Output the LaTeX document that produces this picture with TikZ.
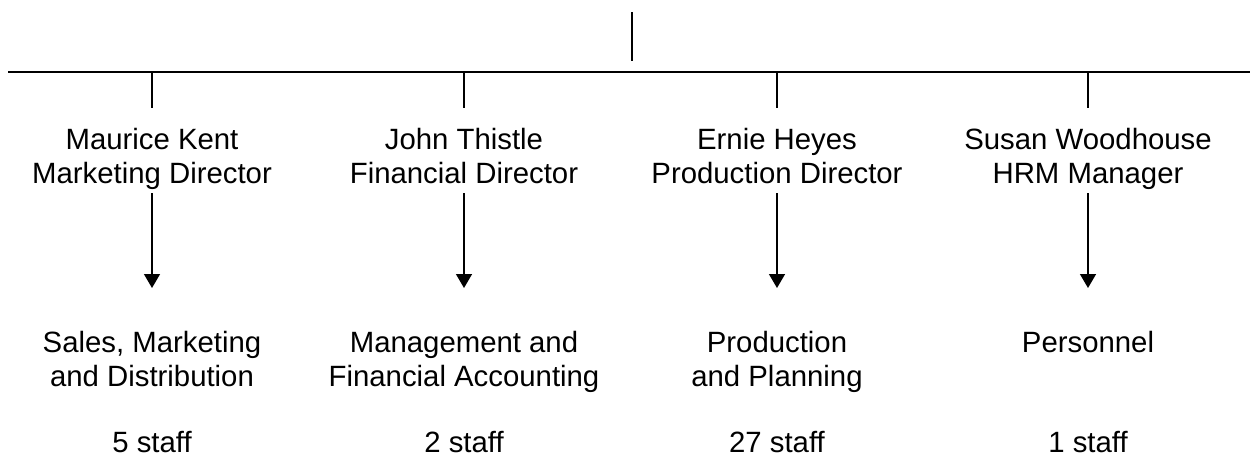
\documentclass[tikz,border=0pt]{standalone}
\usepackage{fontspec}
\setmainfont{Liberation Sans}
\usetikzlibrary{arrows.meta}
\begin{document}
\begin{tikzpicture}[
  x=0.02cm, y=-0.02cm,
  lbl/.style={
    anchor=north, align=center, inner sep=0pt,
    font=\fontsize{16.7}{19.4}\selectfont
  },
  ln/.style={line width=1.1pt},
  arr/.style={-{Triangle[width=0.32cm,length=0.28cm]}, line width=0.8pt}
]
\useasboundingbox (0,0) rectangle (1250,457);

%% ── Reference rows ───────────────────────────────────────────
\coordinate (headTop) at (632,12);
\coordinate (headBot) at (632,61);
\coordinate (busL)    at (8,72);
\coordinate (busR)    at (1250,72);
\coordinate (dropEnd) at (0,108);
\coordinate (arrTop)  at (0,193);
\coordinate (arrTip)  at (0,288);

%% ── Head line and bus ────────────────────────────────────────
\draw[ln] (headTop) -- (headBot);
\draw[ln] (busL) -- (busR);

%% ── Directors ────────────────────────────────────────────────
\node[lbl] (mk) at ( 152,128) {Maurice Kent\\Marketing Director};
\node[lbl] (jt) at ( 464,128) {John Thistle\\Financial Director};
\node[lbl] (eh) at ( 777,128) {Ernie Heyes\\Production Director};
\node[lbl] (sw) at (1088,128) {Susan Woodhouse\\HRM Manager};

\draw[ln] (mk |- busL) -- (mk |- dropEnd);
\draw[ln] (jt |- busL) -- (jt |- dropEnd);
\draw[ln] (eh |- busL) -- (eh |- dropEnd);
\draw[ln] (sw |- busL) -- (sw |- dropEnd);

%% ── Departments ──────────────────────────────────────────────
\node[lbl] (mkDept) at ( 152,331) {Sales, Marketing\\and Distribution};
\node[lbl] (jtDept) at ( 464,331) {Management and\\Financial Accounting};
\node[lbl] (ehDept) at ( 777,331) {Production\\and Planning};
\node[lbl] (swDept) at (1088,331) {Personnel};

\draw[arr] (mk |- arrTop) -- (mkDept |- arrTip);
\draw[arr] (jt |- arrTop) -- (jtDept |- arrTip);
\draw[arr] (eh |- arrTop) -- (ehDept |- arrTip);
\draw[arr] (sw |- arrTop) -- (swDept |- arrTip);

%% ── Staff counts ─────────────────────────────────────────────
\node[lbl] (mkStaff) at ( 152,431) {5 staff};
\node[lbl] (jtStaff) at ( 464,431) {2 staff};
\node[lbl] (ehStaff) at ( 777,431) {27 staff};
\node[lbl] (swStaff) at (1088,431) {1 staff};

\end{tikzpicture}
\end{document}
